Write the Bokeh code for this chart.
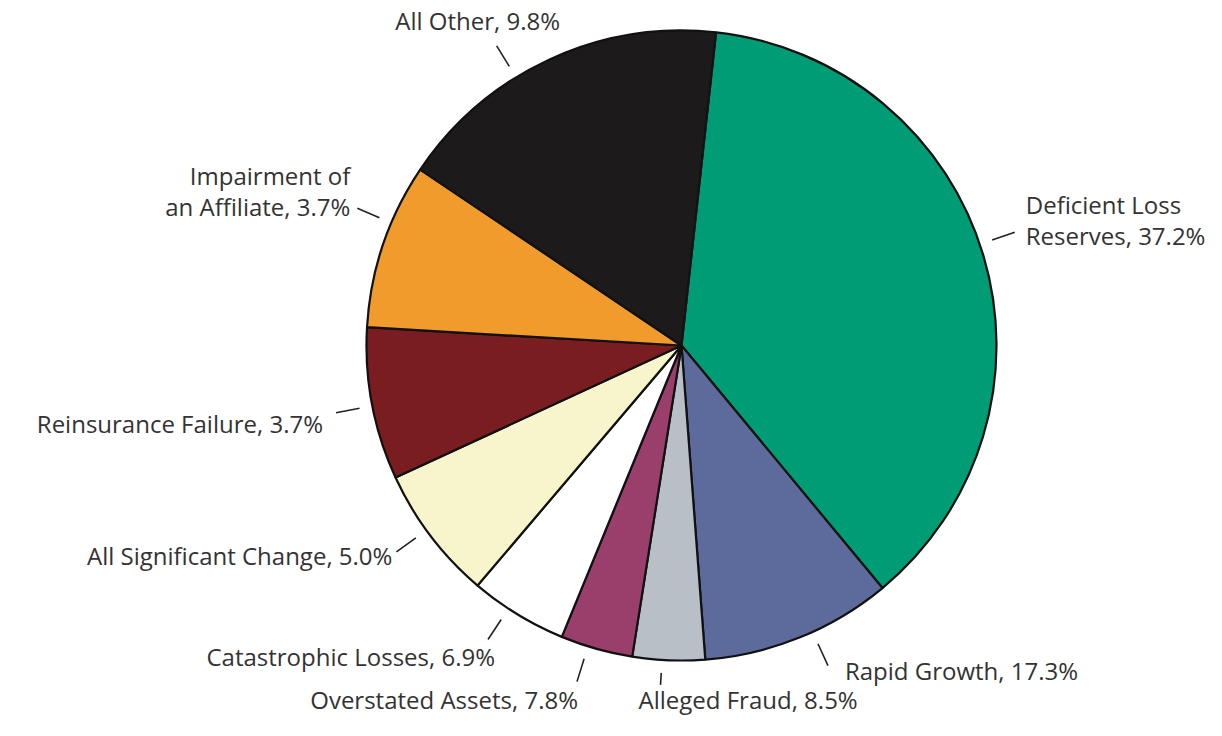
import math
from bokeh.plotting import figure
from bokeh.models import ColumnDataSource, Range1d
from bokeh.core.properties import value
from bokeh.embed import file_html
from bokeh.resources import INLINE

# ---- data (slices in drawing order, clockwise from the top) ----
slice_values = [37.2, 9.8, 3.7, 3.7, 5.0, 6.9, 7.8, 8.5, 17.3]
slice_colors = ["#009C75", "#5D6B9C", "#B9BFC7", "#9A3F6C", "#FFFFFF",
                "#F8F4CC", "#7A1D20", "#F29B2D", "#1D1A1B"]
labels = [
    "Deficient Loss\nReserves, 37.2%",
    "Rapid Growth, 17.3%",
    "Alleged Fraud, 8.5%",
    "Overstated Assets, 7.8%",
    "Catastrophic Losses, 6.9%",
    "All Significant Change, 5.0%",
    "Reinsurance Failure, 3.7%",
    "Impairment of\nan Affiliate, 3.7%",
    "All Other, 9.8%",
]

# ---- layout / style ----
START_DEG = 6.3          # first slice edge, degrees clockwise from 12 o'clock
RADIUS = 315
LEAD_IN = 328
lead_out = [352, 352, 340, 352, 352, 352, 352, 352, 352]
leader_nudge = [-2.1, -2.6, 1.2, 1.6, 2.0, 1.3, -0.3, 4.3, -6.8]
text_offset = [(11, -12), (17, 5), (-22, 15), (1, 18), (7, 17),
               (-4, 4), (-13, 11), (-7, -17), (-19, -25)]   # px (dx, dy downwards)
text_align = ["left", "left", "left", "right", "right",
              "right", "right", "right", "center"]
FONT = "Open Sans"
FONT_SIZE = "24px"
TEXT_COLOR = "#333333"

total = sum(slice_values)
theta = START_DEG
starts, ends, mids = [], [], []
for v in slice_values:
    span = v / total * 360.0
    t1, t2 = theta, theta + span
    # bokeh angles: counter-clockwise from +x
    starts.append(math.radians(90 - t2))
    ends.append(math.radians(90 - t1))
    mids.append((t1 + t2) / 2)
    theta = t2

wedge_src = ColumnDataSource(dict(start=starts, end=ends, color=slice_colors))

lx0, ly0, lx1, ly1, tx, ty = [], [], [], [], [], []
for m, n, ro, (ox, oy) in zip(mids, leader_nudge, lead_out, text_offset):
    a = math.radians(m + n)
    lx0.append(LEAD_IN * math.sin(a)); ly0.append(LEAD_IN * math.cos(a))
    x1 = ro * math.sin(a); y1 = ro * math.cos(a)
    lx1.append(x1); ly1.append(y1)
    tx.append(x1 + ox); ty.append(y1 - oy)

lead_src = ColumnDataSource(dict(x0=lx0, y0=ly0, x1=lx1, y1=ly1))
text_src = ColumnDataSource(dict(x=tx, y=ty, text=labels, align=text_align))

W, H = 1206, 720
CX, CY = 681, 345   # pie centre within the canvas (px)
p = figure(width=W, height=H, output_backend="svg", toolbar_location=None,
           x_range=Range1d(-CX, W - CX), y_range=Range1d(-(H - CY), CY),
           min_border=0)
p.axis.visible = False
p.grid.visible = False
p.outline_line_color = None
p.background_fill_color = "white"
p.border_fill_color = "white"

p.wedge(x=0, y=0, radius=RADIUS, start_angle="start", end_angle="end",
        fill_color="color", line_color="#111111", line_width=2.2, source=wedge_src)
p.segment(x0="x0", y0="y0", x1="x1", y1="y1", line_color="#222222",
          line_width=1.6, source=lead_src)
p.text(x="x", y="y", text="text", source=text_src, text_align="align",
       text_baseline="middle", text_font=value(FONT), text_font_size=FONT_SIZE,
       text_color=TEXT_COLOR, text_line_height=0.93)

open("out.html", "w").write(file_html(p, INLINE))
